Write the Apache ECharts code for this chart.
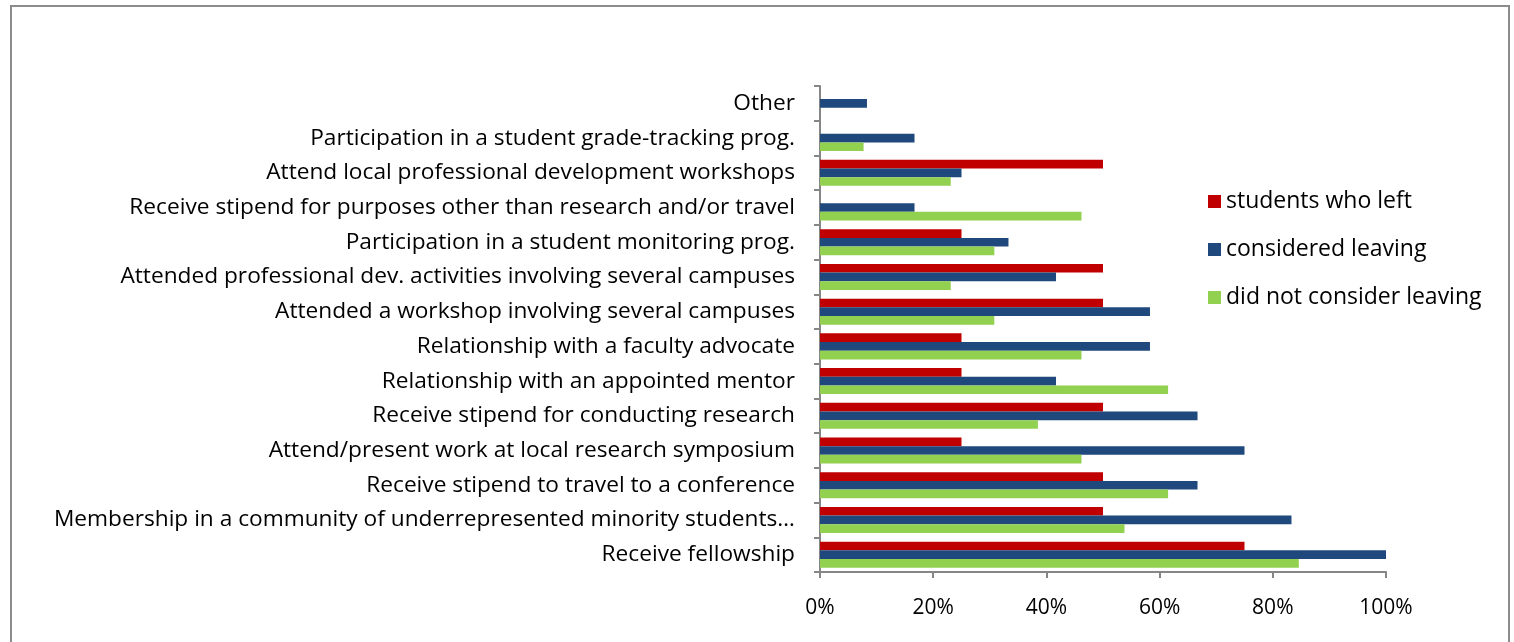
<!DOCTYPE html>
<html>
<head>
<meta charset="utf-8">
<script src="https://cdn.jsdelivr.net/npm/echarts@6/dist/echarts.min.js"></script>
<style>
  html, body { margin: 0; padding: 0; background: #fff; }
  #frame { position: absolute; left: 10px; top: 5px; width: 1500px; height: 660px; border: 2px solid #8c8c8c; box-sizing: border-box; }
  #chart { position: absolute; left: 0; top: 0; width: 1514px; height: 642px; }
</style>
</head>
<body>
<div id="frame"></div>
<div id="chart"></div>
<script>
// categories listed bottom to top
var categories = [
  'Receive fellowship',
  'Membership in a community of underrepresented minority students…',
  'Receive stipend to travel to a conference',
  'Attend/present work at local research symposium',
  'Receive stipend for conducting research',
  'Relationship with an appointed mentor',
  'Relationship with a faculty advocate',
  'Attended a workshop involving several campuses',
  'Attended professional dev. activities involving several campuses',
  'Participation in a student monitoring prog.',
  'Receive stipend for purposes other than research and/or travel',
  'Attend local professional development workshops',
  'Participation in a student grade-tracking prog.',
  'Other'
];
var leftVals       = [75, 50, 50, 25, 50, 25, 25, 50, 50, 25, 0, 50, 0, 0];
var consideredVals = [100, 83.3, 66.7, 75, 66.7, 41.7, 58.3, 58.3, 41.7, 33.3, 16.7, 25, 16.7, 8.3];
var notConsVals    = [84.6, 53.8, 61.5, 46.2, 38.5, 61.5, 46.2, 30.8, 23.1, 30.8, 46.2, 23.1, 7.7, 0];
var xTicks = [0, 20, 40, 60, 80, 100];

var font = 'Open Sans';
var chart = echarts.init(document.getElementById('chart'));
chart.setOption({
  animation: false,
  textStyle: { fontFamily: font },
  grid: { left: 820, right: 128, top: 86, bottom: 70, containLabel: false },
  legend: {
    orient: 'vertical',
    left: 1203,
    top: 185,
    itemWidth: 13,
    itemHeight: 13,
    itemGap: 25,
    icon: 'rect',
    textStyle: { fontSize: 23, color: '#000', fontFamily: font },
    data: ['students who left', 'considered leaving', 'did not consider leaving']
  },
  xAxis: {
    type: 'value',
    min: 0, max: 100, interval: 20,
    axisLine: { show: true, lineStyle: { color: '#868686', width: 2 } },
    axisTick: { show: true, length: 6, lineStyle: { color: '#868686', width: 2 } },
    splitLine: { show: false },
    axisLabel: { formatter: '{value}%', fontSize: 21, color: '#000', margin: 26, fontFamily: font }
  },
  yAxis: {
    type: 'category',
    data: categories,
    axisLine: { show: true, lineStyle: { color: '#868686', width: 2 } },
    axisTick: { show: true, length: 6, alignWithLabel: false, lineStyle: { color: '#868686', width: 2 } },
    axisLabel: { fontSize: 22.7, color: '#000', margin: 25, fontFamily: font }
  },
  series: [
    { name: 'students who left', type: 'bar', data: leftVals,
      itemStyle: { color: '#C00000' }, barGap: '0%', barCategoryGap: '25%' },
    { name: 'considered leaving', type: 'bar', data: consideredVals,
      itemStyle: { color: '#1F497D' } },
    { name: 'did not consider leaving', type: 'bar', data: notConsVals,
      itemStyle: { color: '#92D050' } }
  ]
});
</script>
</body>
</html>
